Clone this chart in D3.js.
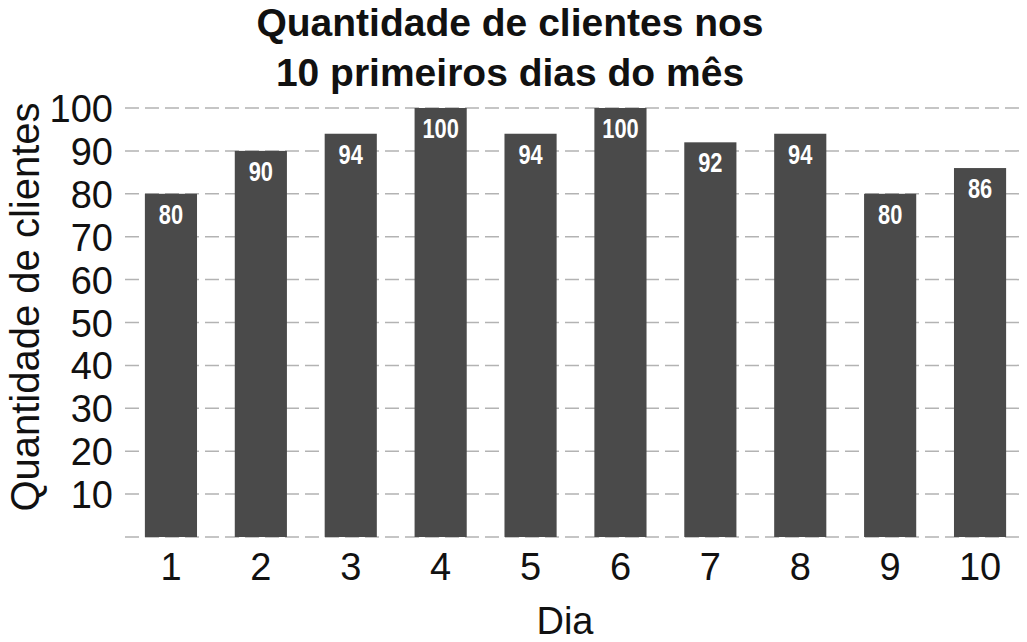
<!DOCTYPE html>
<html><head><meta charset="utf-8">
<script src="https://cdn.jsdelivr.net/npm/d3@7"></script>
<style>body{margin:0;background:#fff}svg{display:block}</style></head>
<body><svg id="c" width="1027" height="642"></svg>
<script>
const dias = ["1","2","3","4","5","6","7","8","9","10"];
const clientes = [80,90,94,100,94,100,92,94,80,86];
const yTicks = [10,20,30,40,50,60,70,80,90,100];

const svg = d3.select("#c");
const x = d3.scaleBand().domain(dias).range([126,1025]).paddingInner(0.42).paddingOuter(0.21);
const y = d3.scaleLinear().domain([0,100]).range([537,108]);
const font = "Liberation Sans, Arial, sans-serif";

svg.append("g").selectAll("line").data([0,...yTicks]).join("line")
  .attr("x1",125).attr("x2",1022).attr("y1",d=>y(d)).attr("y2",d=>y(d))
  .attr("stroke","#b3b3b3").attr("stroke-width",1.5).attr("stroke-dasharray","14,6");

svg.append("g").selectAll("rect").data(clientes).join("rect")
  .attr("x",(d,i)=>x(dias[i])).attr("width",x.bandwidth())
  .attr("y",d=>y(d)).attr("height",d=>y(0)-y(d)).attr("fill","#4a4a4a");

svg.append("g").selectAll("text").data(clientes).join("text")
  .attr("transform",(d,i)=>`translate(${x(dias[i])+x.bandwidth()/2},${y(d)+30}) scale(0.78,1)`)
  .attr("text-anchor","middle").attr("fill","#fff")
  .style("font-family",font)
  .style("font-weight","bold").style("font-size","28px").text(d=>d);

svg.append("g").selectAll("text").data(yTicks).join("text")
  .attr("x",113).attr("y",d=>y(d)+14).attr("text-anchor","end")
  .style("font-family",font).style("font-size","38px").attr("fill","#111").text(d=>d);

svg.append("g").selectAll("text").data(dias).join("text")
  .attr("x",d=>x(d)+x.bandwidth()/2).attr("y",580).attr("text-anchor","middle")
  .style("font-family",font).style("font-size","38px").attr("fill","#111").text(d=>d);

svg.append("text").attr("x",565).attr("y",634).attr("text-anchor","middle")
  .style("font-family",font).style("font-size","38px").attr("fill","#111").text("Dia");
svg.append("text").attr("transform","translate(39,307) rotate(-90)").attr("text-anchor","middle")
  .style("font-family",font).style("font-size","40px").attr("fill","#111").text("Quantidade de clientes");
const t = svg.append("text").attr("text-anchor","middle")
  .style("font-family",font).style("font-size","39px").style("font-weight","bold").attr("fill","#111");
t.append("tspan").attr("x",510).attr("y",36).text("Quantidade de clientes nos");
t.append("tspan").attr("x",510).attr("y",86).text("10 primeiros dias do mês");
</script></body></html>
